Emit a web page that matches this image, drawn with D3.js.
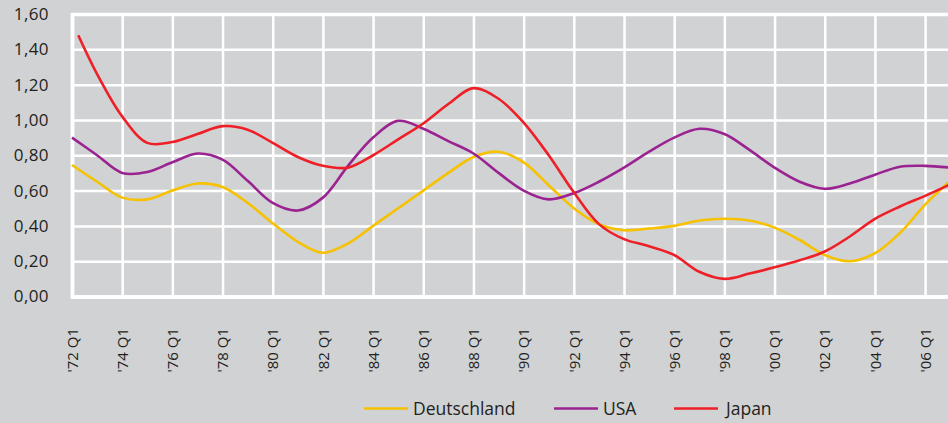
<!DOCTYPE html>
<html>
<head>
<meta charset="utf-8">
<script src="https://cdn.jsdelivr.net/npm/d3@7"></script>
<style>
    body { margin: 0; background: #d1d2d4; }
    svg { display: block; }
    text { font-family: "Open Sans", sans-serif; fill: #231f20; }
</style>
</head>
<body>
<div id="chart"></div>
<script>
// one value per year (Q1)
var years = [1972, 1973, 1974, 1975, 1976, 1977, 1978, 1979, 1980, 1981, 1982, 1983,
    1984, 1985, 1986, 1987, 1988, 1989, 1990, 1991, 1992, 1993, 1994, 1995,
    1996, 1997, 1998, 1999, 2000, 2001, 2002, 2003, 2004, 2005, 2006, 2007];

var deutschland = [0.745, 0.65, 0.56, 0.55, 0.60, 0.64, 0.62, 0.53, 0.415, 0.31, 0.248, 0.30,
    0.40, 0.50, 0.60, 0.70, 0.79, 0.82, 0.76, 0.63, 0.50, 0.41, 0.375, 0.385,
    0.40, 0.43, 0.44, 0.43, 0.39, 0.32, 0.235, 0.20, 0.245, 0.36, 0.52, 0.655];

var usa = [0.90, 0.80, 0.70, 0.705, 0.76, 0.81, 0.775, 0.655, 0.53, 0.487, 0.56, 0.74,
    0.90, 0.995, 0.95, 0.88, 0.81, 0.70, 0.60, 0.55, 0.585, 0.65, 0.73, 0.82,
    0.90, 0.95, 0.92, 0.83, 0.73, 0.65, 0.61, 0.64, 0.69, 0.735, 0.74, 0.73];

// Japan starts one quarter later ('72 Q2)
var japanYears = [1972.25, 1973, 1974, 1975, 1976, 1977, 1978, 1979, 1980, 1981, 1982, 1983,
    1984, 1985, 1986, 1987, 1988, 1989, 1990, 1991, 1992, 1993, 1994, 1995,
    1996, 1997, 1998, 1999, 2000, 2001, 2002, 2003, 2004, 2005, 2006, 2007];
var japan = [1.48, 1.26, 1.02, 0.87, 0.875, 0.92, 0.965, 0.945, 0.87, 0.79, 0.74, 0.73,
    0.80, 0.89, 0.98, 1.09, 1.18, 1.12, 0.985, 0.80, 0.59, 0.41, 0.325, 0.285,
    0.235, 0.14, 0.10, 0.13, 0.165, 0.205, 0.255, 0.34, 0.44, 0.51, 0.57, 0.635];

var xTickYears = [1972, 1974, 1976, 1978, 1980, 1982, 1984, 1986, 1988,
    1990, 1992, 1994, 1996, 1998, 2000, 2002, 2004, 2006];
var xTickLabels = ["'72 Q1", "'74 Q1", "'76 Q1", "'78 Q1", "'80 Q1", "'82 Q1", "'84 Q1", "'86 Q1", "'88 Q1",
    "'90 Q1", "'92 Q1", "'94 Q1", "'96 Q1", "'98 Q1", "'00 Q1", "'02 Q1", "'04 Q1", "'06 Q1"];
var yTicks = [0, 0.2, 0.4, 0.6, 0.8, 1.0, 1.2, 1.4, 1.6];

var seriesNames = ["Deutschland", "USA", "Japan"];
var seriesColors = ["#f6c200", "#9b2391", "#ee1f27"];

(function () {
    var W = 948, H = 423;
    var plotLeft = 72, plotTop = 14, plotBottom = 296.5;

    var svg = d3.select("#chart").append("svg")
        .attr("width", W)
        .attr("height", H);

    svg.append("rect").attr("width", W).attr("height", H).attr("fill", "#d1d2d4");

    var x = d3.scaleLinear().domain([1972, 2007]).range([plotLeft, 950.2]);
    var y = d3.scaleLinear().domain([0, 1.6]).range([plotBottom, plotTop]);

    var de = d3.formatLocale({ decimal: ",", thousands: ".", grouping: [3], currency: ["", "€"] });
    var fmt = de.format(".2f");

    // horizontal grid + y labels
    var yAxis = svg.append("g")
        .attr("transform", "translate(" + plotLeft + ",0)")
        .call(d3.axisLeft(y).tickValues(yTicks).tickFormat(fmt).tickSize(-(W - plotLeft)).tickPadding(23));

    // vertical grid + x labels
    var xAxis = svg.append("g")
        .attr("transform", "translate(0," + plotBottom + ")")
        .call(d3.axisBottom(x).tickValues(xTickYears).tickFormat((d, i) => xTickLabels[i]).tickSize(-(plotBottom - plotTop)));

    [yAxis, xAxis].forEach(function (g) {
        g.attr("font-family", null).attr("font-size", null);
        g.selectAll(".tick line").attr("stroke", "#fff").attr("stroke-width", 2.5);
        g.select(".domain").attr("stroke", "#fff").attr("stroke-width", 3.5);
    });

    yAxis.selectAll("text")
        .style("font-size", "17px")
        .style("letter-spacing", "0.4px")
        .attr("fill", "#231f20");

    xAxis.selectAll("text")
        .style("font-size", "15px")
        .attr("fill", "#231f20")
        .attr("x", 0).attr("y", 0)
        .attr("dy", "0.35em")
        .attr("transform", "translate(0," + (328 - plotBottom) + ") rotate(-90)")
        .style("text-anchor", "end");

    // lines
    var line = d3.line()
        .x(d => x(d[0]))
        .y(d => y(d[1]))
        .curve(d3.curveCatmullRom.alpha(0.5));

    var seriesData = [
        d3.zip(years, deutschland),
        d3.zip(years, usa),
        d3.zip(japanYears, japan)
    ];

    svg.selectAll(".series")
        .data(seriesData)
        .enter().append("path")
        .attr("class", "series")
        .attr("fill", "none")
        .attr("stroke", (d, i) => seriesColors[i])
        .attr("stroke-width", 2.6)
        .attr("d", line);

    // legend
    var legendX = [364, 554, 674];
    var legend = svg.selectAll(".legend")
        .data(seriesNames)
        .enter().append("g")
        .attr("class", "legend")
        .attr("transform", (d, i) => "translate(" + legendX[i] + ",408.5)");

    legend.append("line")
        .attr("x1", 0).attr("x2", 44)
        .attr("stroke", (d, i) => seriesColors[i])
        .attr("stroke-width", 2.6);

    legend.append("text")
        .attr("x", (d, i) => i == 2 ? 52 : 49)
        .attr("dy", "0.35em")
        .style("font-size", "17.5px")
        .text(d => d);
})();
</script>
</body>
</html>
